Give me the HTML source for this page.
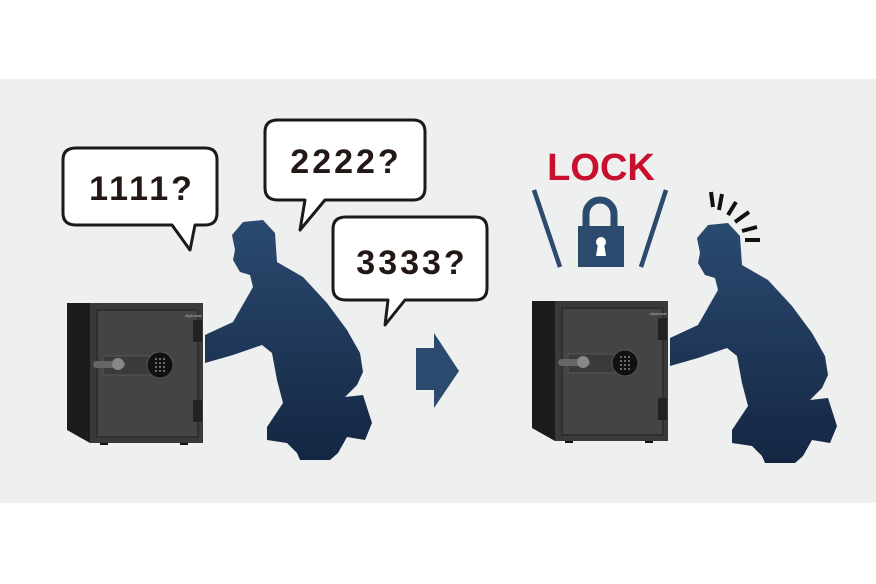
<!DOCTYPE html>
<html><head><meta charset="utf-8"><style>
html,body{margin:0;padding:0;background:#fff}
svg{display:block}
text{font-family:"Liberation Sans","DejaVu Sans",sans-serif;font-weight:bold}
</style></head><body>
<svg width="876" height="584" viewBox="0 0 876 584" xmlns="http://www.w3.org/2000/svg">
<defs>
<linearGradient id="mg" x1="0" y1="0" x2="0" y2="1">
<stop offset="0" stop-color="#2b4a70"/><stop offset="1" stop-color="#142642"/>
</linearGradient>
<g id="safe">
<polygon points="67,303 90,303 90,443 67,430" fill="#1c1c1c"/>
<rect x="90" y="303" width="113" height="140" fill="#3a3a3a"/>
<rect x="97" y="310" width="101" height="127" fill="#444" stroke="#2a2a2a" stroke-width="1.5"/>
<rect x="193" y="320" width="9" height="22" fill="#222"/>
<rect x="193" y="400" width="9" height="22" fill="#222"/>
<rect x="103" y="356" width="52" height="19" fill="#3a3a3a" stroke="#555" stroke-width="1"/>
<rect x="93" y="361" width="32" height="7" rx="3.5" fill="#666"/>
<circle cx="118" cy="364" r="6" fill="#888"/>
<circle cx="160" cy="365" r="13" fill="#111" stroke="#555" stroke-width="1"/>
<g fill="#aaa"><circle cx="156" cy="359" r=".9"/><circle cx="160" cy="359" r=".9"/><circle cx="164" cy="359" r=".9"/>
<circle cx="156" cy="363" r=".9"/><circle cx="160" cy="363" r=".9"/><circle cx="164" cy="363" r=".9"/>
<circle cx="156" cy="367" r=".9"/><circle cx="160" cy="367" r=".9"/><circle cx="164" cy="367" r=".9"/>
<circle cx="156" cy="371" r=".9"/><circle cx="160" cy="371" r=".9"/><circle cx="164" cy="371" r=".9"/></g>
<text x="185" y="317" font-size="4" fill="#999" font-weight="normal">diplomat</text>
<rect x="100" y="443" width="8" height="2" fill="#111"/><rect x="180" y="443" width="8" height="2" fill="#111"/>
</g>
<path id="man" fill="url(#mg)" d="M235,250 L232,235 L243,222 L263,220 L275,233 L277,262 L303,277 L327,303 L347,330 L360,353 L363,372 L357,385 L345,397 L363,395 L372,423 L365,440 L347,437 L338,453 L330,460 L300,460 L297,453 L287,443 L267,440 L267,427 L283,403 L277,380 L272,353 L262,345 L233,355 L205,363 L205,335 L233,322 L253,287 L250,275 L240,272 L233,260 Z"/>
</defs>
<rect x="0" y="79" width="876" height="424" fill="#eeefef"/>
<use href="#safe"/>
<use href="#man"/>
<use href="#safe" transform="translate(465,-2)"/>
<use href="#man" transform="translate(465,3)"/>
<g fill="#fff" stroke="#1a1a1a" stroke-width="3" stroke-linejoin="round">
<path d="M76,148 H205 Q217,148 217,160 V213 Q217,225 205,225 H195 L190,250 L172,225 H76 Q63,225 63,213 V160 Q63,148 76,148 Z"/>
<path d="M278,120 H413 Q425,120 425,132 V188 Q425,200 413,200 H325 L300,230 L305,200 H278 Q265,200 265,188 V132 Q265,120 278,120 Z"/>
<path d="M346,217 H475 Q487,217 487,229 V288 Q487,300 475,300 H405 L385,325 L388,300 H346 Q333,300 333,288 V229 Q333,217 346,217 Z"/>
</g>
<g font-size="34" fill="#231815" text-anchor="middle" letter-spacing="3">
<text x="142" y="200">1111?</text>
<text x="346" y="173">2222?</text>
<text x="412" y="274">3333?</text>
</g>
<path d="M416,348 H434 V333 L459,371 L434,408 V390 H416 Z" fill="#2b4a6e"/>
<text x="601" y="180" font-size="38" fill="#c8102e" text-anchor="middle">LOCK</text>
<g stroke="#2b4a6e" stroke-width="4.5">
<line x1="534" y1="190" x2="560" y2="267"/><line x1="666" y1="190" x2="641" y2="267"/>
</g>
<path d="M586,228 V214 a14,14 0 0 1 28,0 V228" fill="none" stroke="#2b4a6e" stroke-width="7"/>
<rect x="578" y="226" width="46" height="41" fill="#2b4a6e"/>
<circle cx="601" cy="242" r="5" fill="#fff"/>
<polygon points="598,244 604,244 606,256 596,256" fill="#fff"/>
<g stroke="#111" stroke-width="4">
<line x1="711" y1="192" x2="713" y2="207"/><line x1="722" y1="194" x2="719" y2="210"/>
<line x1="736" y1="202" x2="728" y2="215"/><line x1="749" y1="212" x2="735" y2="222"/>
<line x1="757" y1="227" x2="742" y2="231"/><line x1="760" y1="240" x2="745" y2="240"/>
</g>
</svg>
</body></html>
